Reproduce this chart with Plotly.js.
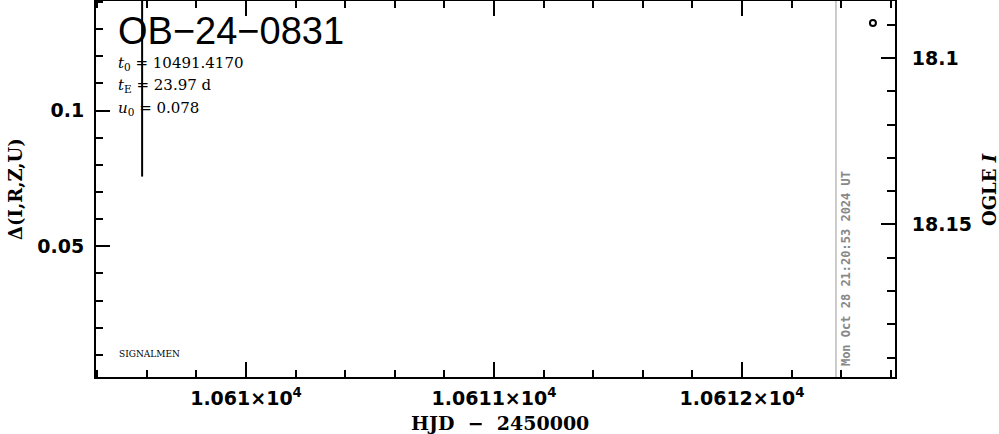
<!DOCTYPE html>
<html><head><meta charset="utf-8">
<script src="https://cdn.plot.ly/plotly-3.0.1.min.js"></script>
<style>html,body{margin:0;padding:0;background:#fff}</style>
</head><body><div id="chart" style="width:999px;height:434px"></div>
<script>
// Data
const eventName = "OB−24−0831";
const t0 = "10491.4170";
const tE = "23.97 d";
const u0 = "0.078";
const deltaX = [10609.581, 10609.581];
const deltaY = [0.0757, 0.145];
const ogleX = [10612.528];
const ogleI = [18.0895];
const nowHJD = 10612.379;
const nowLabel = "Mon Oct 28 21:20:53 2024 UT";
const xTickVals = [10610, 10611, 10612];
const xTickText = ["1.061×10<sup>4</sup>", "1.0611×10<sup>4</sup>", "1.0612×10<sup>4</sup>"];
const yTickVals = [0.05, 0.1];
const yTickText = ["0.05", "0.1"];
const y2TickVals = [18.1, 18.15];
const y2TickText = ["18.1", "18.15"];

const tickFont = {family: "DejaVu Sans", size: 19, color: "#000", weight: "bold"};
const serif = "DejaVu Serif";

const traces = [
  {x: deltaX, y: deltaY, mode: "lines", line: {color: "#000", width: 2}, showlegend: false, hoverinfo: "skip"},
  {x: ogleX, y: ogleI, yaxis: "y2", mode: "markers", showlegend: false,
   marker: {symbol: "circle-open", size: 6, color: "#000", line: {width: 2, color: "#000"}}}
];

const layout = {
  width: 999, height: 434,
  margin: {l: 96, r: 104, t: 1, b: 57},
  paper_bgcolor: "#fff", plot_bgcolor: "#fff",
  showlegend: false,
  xaxis: {
    range: [10609.395, 10612.617], showgrid: false, zeroline: false,
    showline: true, linecolor: "#000", linewidth: 2, mirror: "ticks",
    ticks: "inside", ticklen: 15, tickwidth: 2, tickcolor: "#000",
    tickvals: xTickVals, ticktext: xTickText, tickfont: tickFont, ticklabelstandoff: 3,
    minor: {dtick: 0.2, tick0: 10610, ticklen: 7, tickwidth: 2, tickcolor: "#000", ticks: "inside", showgrid: false}
  },
  yaxis: {
    range: [0.00184, 0.1404], showgrid: false, zeroline: false,
    showline: true, linecolor: "#000", linewidth: 2, mirror: false,
    ticks: "inside", ticklen: 14, tickwidth: 2, tickcolor: "#000",
    tickvals: yTickVals, ticktext: yTickText, tickfont: tickFont, ticklabelstandoff: 6,
    minor: {dtick: 0.01, tick0: 0, ticklen: 7, tickwidth: 2, tickcolor: "#000", ticks: "inside", showgrid: false}
  },
  yaxis2: {
    overlaying: "y", side: "right", anchor: "x",
    range: [18.1958, 18.0829], showgrid: false, zeroline: false,
    showline: true, linecolor: "#000", linewidth: 2,
    ticks: "inside", ticklen: 14, tickwidth: 2, tickcolor: "#000",
    tickvals: y2TickVals, ticktext: y2TickText, tickfont: tickFont, ticklabelstandoff: 11,
    minor: {dtick: 0.01, tick0: 18.1, ticklen: 8, tickwidth: 2, tickcolor: "#000", ticks: "inside", showgrid: false}
  },
  shapes: [
    {type: "line", xref: "x", yref: "paper", x0: nowHJD, x1: nowHJD, y0: 0, y1: 1,
     line: {color: "#999", width: 1}}
  ],
  annotations: [
    {text: eventName, xref: "paper", yref: "paper", x: 0.025, y: 0.92, xanchor: "left", yanchor: "middle",
     showarrow: false, font: {family: "Liberation Sans", size: 38, color: "#000"}},
    {text: "<i>t</i><sub>0</sub> = " + t0, xref: "paper", yref: "paper", x: 0.025, y: 0.835, xanchor: "left", yanchor: "middle",
     showarrow: false, font: {family: serif, size: 15, color: "#000"}},
    {text: "<i>t</i><sub>E</sub> = " + tE, xref: "paper", yref: "paper", x: 0.025, y: 0.774, xanchor: "left", yanchor: "middle",
     showarrow: false, font: {family: serif, size: 15, color: "#000"}},
    {text: "<i>u</i><sub>0</sub> = " + u0, xref: "paper", yref: "paper", x: 0.025, y: 0.713, xanchor: "left", yanchor: "middle",
     showarrow: false, font: {family: serif, size: 15, color: "#000"}},
    {text: "SIGNALMEN", xref: "paper", yref: "paper", x: 0.026, y: 0.06, xanchor: "left", yanchor: "middle",
     showarrow: false, font: {family: serif, size: 9, color: "#000"}},
    {text: nowLabel, xref: "x", yref: "paper", x: nowHJD, y: 0.025, xanchor: "left", yanchor: "bottom", xshift: 1,
     textangle: -90, showarrow: false, font: {family: "DejaVu Sans Mono", size: 12, color: "#888", weight: "bold"}},
    {text: "<b>Δ(I,R,Z,U)</b>", xref: "paper", yref: "paper", x: -0.1014, y: 0.5, xanchor: "center", yanchor: "middle",
     textangle: -90, showarrow: false, font: {family: serif, size: 18, color: "#000"}},
    {text: "<b>OGLE <i>I</i></b>", xref: "paper", yref: "paper", x: 1.1176, y: 0.5, xanchor: "center", yanchor: "middle",
     textangle: -90, showarrow: false, font: {family: serif, size: 18, color: "#000"}},
    {text: "<b>HJD  −  2450000</b>", xref: "paper", yref: "paper", x: 0.5056, y: -0.1223, xanchor: "center", yanchor: "middle",
     showarrow: false, font: {family: serif, size: 19, color: "#000"}}
  ]
};

Plotly.newPlot("chart", traces, layout, {displayModeBar: false, staticPlot: true});
</script>
</body></html>
